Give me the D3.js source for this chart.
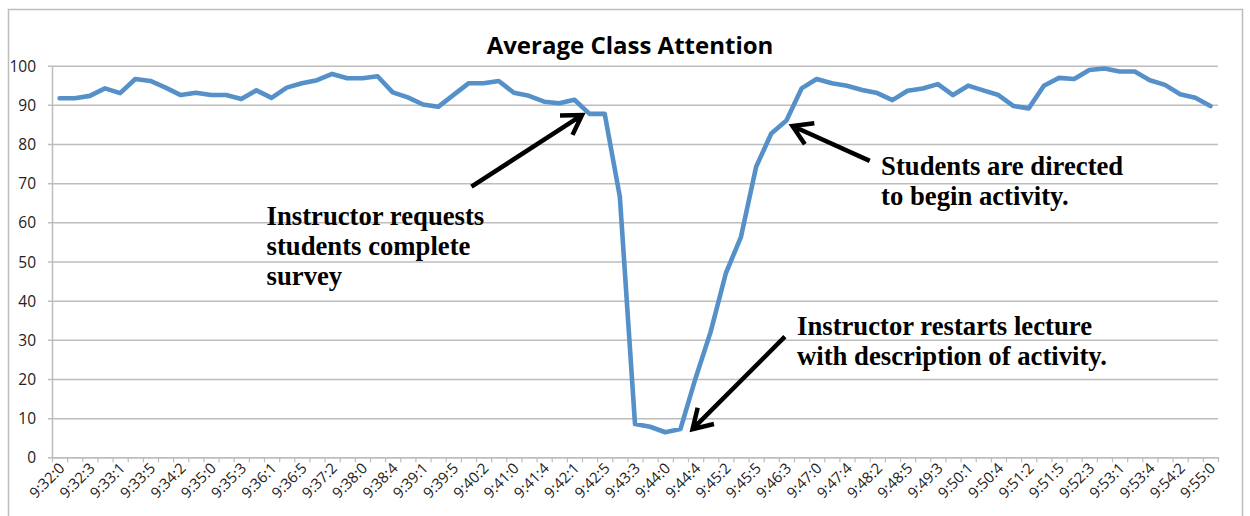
<!DOCTYPE html>
<html>
<head>
<meta charset="utf-8">
<script src="https://cdn.jsdelivr.net/npm/d3@7"></script>
<style>
  body { margin: 0; background: #fff; }
  svg { display: block; }
</style>
</head>
<body>
<svg id="chart" width="1250" height="516"></svg>
<script>
// ---- data ----
const tickLabels = ["9:32:0","9:32:3","9:33:1","9:33:5","9:34:2","9:35:0","9:35:3","9:36:1","9:36:5","9:37:2",
  "9:38:0","9:38:4","9:39:1","9:39:5","9:40:2","9:41:0","9:41:4","9:42:1","9:42:5","9:43:3",
  "9:44:0","9:44:4","9:45:2","9:45:5","9:46:3","9:47:0","9:47:4","9:48:2","9:48:5","9:49:3",
  "9:50:1","9:50:4","9:51:2","9:51:5","9:52:3","9:53:1","9:53:4","9:54:2","9:55:0"];
const attention = [91.7,91.7,92.3,94.2,93.0,96.6,96.1,94.4,92.5,93.1,
  92.5,92.5,91.5,93.7,91.8,94.4,95.5,96.3,97.9,96.8,
  96.8,97.3,93.2,91.9,90.1,89.5,92.5,95.5,95.5,96.1,
  93.1,92.3,90.8,90.4,91.3,87.7,87.7,66.5,8.5,7.8,
  6.4,7.2,20.2,32.1,47.0,56.3,74.2,82.7,86.0,94.2,
  96.6,95.5,94.9,93.8,93.0,91.2,93.6,94.2,95.3,92.5,
  94.9,93.7,92.5,89.7,89.1,94.9,96.9,96.6,98.9,99.3,
  98.5,98.5,96.3,95.1,92.7,91.8,89.7];
const yTicks = [0,10,20,30,40,50,60,70,80,90,100];
const title = "Average Class Attention";
// annotations in data coordinates (category index, value)
const notes = [
  { lines: ["Instructor requests","students complete","survey"], at: [13.67, 59.3],
    tail: [27.2, 69.1], tip: [34.5, 87.4] },
  { lines: ["Students are directed","to begin activity."], at: [54.25, 72.1],
    tail: [53.5, 75.7], tip: [48.4, 84.6] },
  { lines: ["Instructor restarts lecture","with description of activity."], at: [48.7, 31.2],
    tail: [47.9, 30.8], tip: [41.8, 7.2] }
];

// ---- layout ----
const svg = d3.select("#chart");
const plot = { left: 52, right: 1218, top: 65.7, bottom: 457.3 };

svg.append("rect").attr("x", 8.5).attr("y", 9.5).attr("width", 1234).attr("height", 520)
  .attr("fill", "#fff").attr("stroke", "#bdbdbd").attr("stroke-width", 1.5);

const idx = d3.range(attention.length);
const xBand = d3.scaleBand().domain(idx).range([plot.left, plot.right]).paddingInner(0).paddingOuter(0);
const bw = xBand.bandwidth();
const xLin = d3.scaleLinear().domain([0, attention.length - 1])
  .range([plot.left + bw / 2, plot.right - bw / 2]);
const y = d3.scaleLinear().domain([0, 100]).range([plot.bottom, plot.top]);

// gridlines + y axis
const yAxis = d3.axisLeft(y).tickValues(yTicks).tickSize(-(plot.right - plot.left)).tickPadding(16)
  .tickSizeOuter(0);
const gy = svg.append("g").attr("transform", `translate(${plot.left},0)`).call(yAxis);
gy.attr("font-size", null).attr("font-family", null);
gy.select(".domain").attr("stroke", "#bdbdbd").attr("stroke-width", 1.5);
gy.selectAll(".tick line").attr("stroke", "#bdbdbd").attr("stroke-width", 1.5).attr("x1", -4);
gy.selectAll(".tick text").style("font-family", "'Open Sans', sans-serif").style("font-size", "15.5px")
  .attr("fill", "#222").attr("dy", "0.36em");

// x axis with ticks at band boundaries
const xAxisTicks = d3.axisBottom(d3.scaleLinear().domain([0, attention.length]).range([plot.left, plot.right]))
  .tickValues(d3.range(attention.length + 1)).tickSize(5).tickFormat("").tickSizeOuter(0);
const gxt = svg.append("g").attr("transform", `translate(0,${plot.bottom})`).call(xAxisTicks);
gxt.select(".domain").attr("stroke", "#bdbdbd").attr("stroke-width", 1.5);
gxt.selectAll(".tick line").attr("stroke", "#bdbdbd").attr("stroke-width", 1.2);

const xAxisLabels = d3.axisBottom(xBand)
  .tickValues(idx.filter(i => i % 2 === 0))
  .tickFormat(i => tickLabels[i / 2]).tickSize(0).tickSizeOuter(0);
const gx = svg.append("g").attr("transform", `translate(0,${plot.bottom})`).call(xAxisLabels);
gx.attr("font-size", null).attr("font-family", null);
gx.select(".domain").remove();
gx.selectAll(".tick text")
  .style("font-family", "'Open Sans', sans-serif").style("font-size", "15px").attr("fill", "#222")
  .attr("text-anchor", "end").attr("dy", null).attr("y", 0)
  .attr("transform", "translate(6,12) rotate(-45)");

// title
svg.append("text").attr("x", 630).attr("y", 54).attr("text-anchor", "middle")
  .style("font-family", "'Open Sans', sans-serif").attr("font-weight", "bold")
  .style("font-size", "24px").attr("fill", "#000").text(title);

// line
const line = d3.line().x((d, i) => xBand(i) + bw / 2).y(d => y(d));
svg.append("path").datum(attention).attr("d", line)
  .attr("fill", "none").attr("stroke", "#5590c8").attr("stroke-width", 4.6)
  .attr("stroke-linejoin", "round").attr("stroke-linecap", "round");

// annotations
const ann = svg.append("g");
notes.forEach(n => {
  const t = ann.append("text").attr("x", xLin(n.at[0])).attr("y", y(n.at[1]))
    .style("font-family", "'Liberation Serif', 'Times New Roman', serif").attr("font-weight", "bold")
    .style("font-size", "26.7px").attr("fill", "#000");
  n.lines.forEach((s, k) => t.append("tspan").attr("x", xLin(n.at[0])).attr("dy", k === 0 ? 0 : 30).text(s));
  const x0 = xLin(n.tail[0]), y0 = y(n.tail[1]), x1 = xLin(n.tip[0]), y1 = y(n.tip[1]);
  const a = Math.atan2(y0 - y1, x0 - x1), L = 22, sp = 0.55;
  const p = d3.path();
  p.moveTo(x0, y0); p.lineTo(x1, y1);
  p.moveTo(x1 + L * Math.cos(a + sp), y1 + L * Math.sin(a + sp));
  p.lineTo(x1, y1);
  p.lineTo(x1 + L * Math.cos(a - sp), y1 + L * Math.sin(a - sp));
  ann.append("path").attr("d", p.toString()).attr("fill", "none").attr("stroke", "#000")
    .attr("stroke-width", 4.5).attr("stroke-linecap", "butt").attr("stroke-linejoin", "miter");
});
</script>
</body>
</html>
